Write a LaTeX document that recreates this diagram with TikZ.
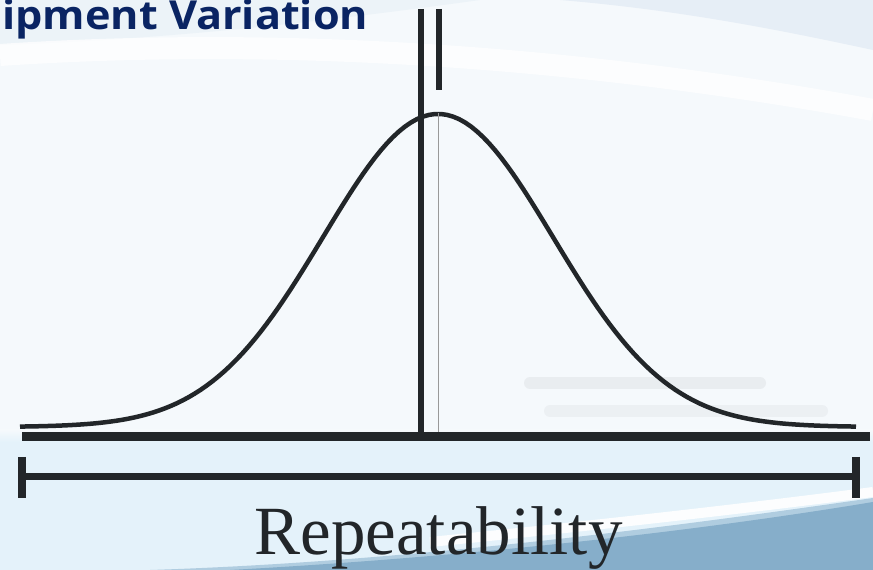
\documentclass[tikz,border=0pt]{standalone}
\usepackage{fontspec}
\newfontfamily\titlefont{Open Sans}
\newfontfamily\labelfont{Liberation Serif}
\definecolor{bgc}{HTML}{F5F9FC}
\definecolor{topc}{HTML}{E6EEF6}
\definecolor{lowc}{HTML}{E4F2FA}
\definecolor{deepc}{HTML}{86AECA}
\definecolor{inkc}{HTML}{222629}
\definecolor{navy}{HTML}{0A2463}
\definecolor{barc}{HTML}{E6EAEE}
\begin{document}
\begin{tikzpicture}[x=1pt,y=1pt,
  thick line/.style={draw=inkc, line width=6pt, line cap=butt},
  base line/.style={draw=inkc, line width=9pt, line cap=butt},
  span line/.style={draw=inkc, line width=7pt, line cap=butt},
  span cap/.style={draw=inkc, line width=8pt, line cap=butt},
  bell/.style={draw=inkc, line width=4.5pt, line join=round},
  hair/.style={draw=gray!80, line width=1pt}]
% background
\fill[bgc] (0,0) rectangle (873,570);
\useasboundingbox (0,0) rectangle (873,570);
\fill[topc!60!bgc] (0,570) -- (480,570) .. controls (300,545) and (150,530) .. (0,525) -- cycle;
\fill[topc] (560,570) -- (873,570) -- (873,520) .. controls (780,540) and (680,560) .. (560,570) -- cycle;
\draw[white, line width=22pt, opacity=.75] (0,515) .. controls (300,535) and (600,510) .. (873,460);
\fill[lowc] (0,0) rectangle (873,128);
\shade[top color=bgc, bottom color=lowc] (0,128) rectangle (873,140);
\draw[barc, line width=12pt, line cap=round, opacity=.8] (530,187) -- (760,187);
\draw[barc, line width=12pt, line cap=round, opacity=.6] (550,159) -- (822,159);
\draw[white, line width=10pt, opacity=.9] (430,28) .. controls (600,45) and (750,62) .. (873,78);
\fill[deepc!55!lowc] (150,0) .. controls (400,8) and (650,40) .. (873,72) -- (873,0) -- cycle;
\fill[deepc] (230,0) .. controls (450,12) and (680,36) .. (873,68) -- (873,0) -- cycle;
% coordinates
\coordinate (vtop) at (421,561);
\coordinate (vbot) at (421,134);
\coordinate (stop) at (439,561);
\coordinate (sbot) at (439,480);
\coordinate (htop) at (438.5,457);
\coordinate (hbot) at (438.5,137);
\coordinate (bl) at (22,133.5);
\coordinate (br) at (870,133.5);
\coordinate (sl) at (22,93.5);
\coordinate (sr) at (855.5,93.5);
\coordinate (slt) at (22,113);
\coordinate (slb) at (22,72);
\coordinate (srt) at (855.5,113);
\coordinate (srb) at (855.5,72);
% bell curve
\draw[bell] plot[domain=20:856, samples=140] (\x, {143+313*exp(-0.5*((\x-438)/115)^2)});
% lines
\draw[hair] (htop) -- (hbot);
\draw[thick line] (vtop) -- (vbot);
\draw[thick line] (stop) -- (sbot);
\draw[base line] (bl) -- (br);
\draw[span line] (sl) -- (sr);
\draw[span cap] (slt) -- (slb);
\draw[span cap] (srt) -- (srb);
% texts
\node[anchor=base west, inner sep=0, text=navy, xscale=1.08, font=\titlefont\bfseries\fontsize{40}{44}\selectfont] (title) at (2,540) {ipment Variation};
\node[anchor=base, inner sep=0, text=inkc, font=\labelfont\fontsize{69}{80}\selectfont] (label) at (438.5,15) {Repeatability};
\end{tikzpicture}
\end{document}
